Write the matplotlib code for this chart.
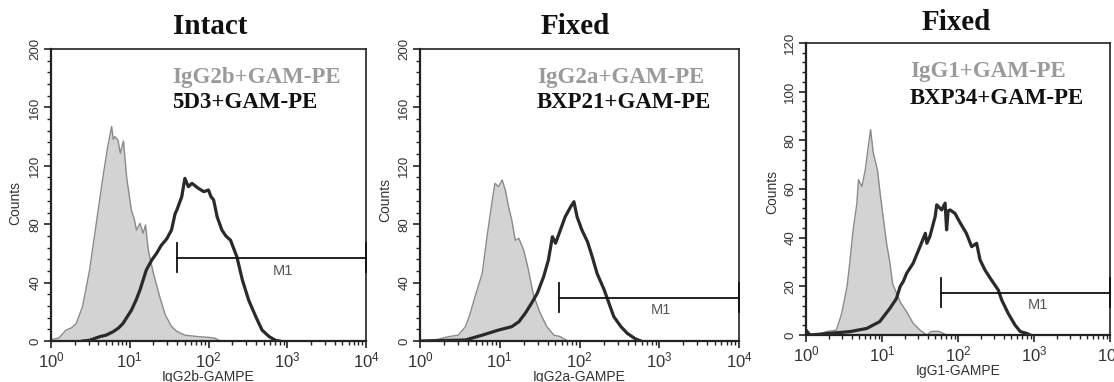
import numpy as np
import matplotlib
matplotlib.use("Agg")
import matplotlib.pyplot as plt
from matplotlib.ticker import LogLocator, LogFormatterMathtext, MultipleLocator, NullFormatter

plt.rcParams['mathtext.fontset'] = 'custom'
plt.rcParams['mathtext.rm'] = 'Liberation Sans'
plt.rcParams['mathtext.it'] = 'Liberation Sans'
plt.rcParams['font.family'] = ['Liberation Sans', 'DejaVu Sans']

# ---------------- data (log10 fluorescence, counts) ----------------
titles = ["Intact", "Fixed", "Fixed"]
iso_labels = ["IgG2b+GAM-PE", "IgG2a+GAM-PE", "IgG1+GAM-PE"]
ab_labels = ["5D3+GAM-PE", "BXP21+GAM-PE", "BXP34+GAM-PE"]
x_labels = ["IgG2b-GAMPE", "IgG2a-GAMPE", "IgG1-GAMPE"]
y_max = [200, 200, 120]

p1_iso_log = [0.0, 0.10, 0.19, 0.26, 0.32, 0.40, 0.49, 0.575, 0.66, 0.72, 0.77, 0.79, 0.81, 0.85, 0.88,
              0.92, 0.96, 1.02, 1.06, 1.085, 1.13, 1.17, 1.20, 1.235, 1.30, 1.38, 1.45, 1.53, 1.60, 1.70,
              1.87, 2.0, 2.08, 2.13, 2.2]
p1_iso_cnt = [1, 2, 7.5, 9, 12, 23.5, 48.6, 80.6, 112.5, 133, 147, 138, 140, 137.7, 128.6,
              137, 112.5, 89.7, 82.9, 76, 80.6, 73.8, 79.5, 62.3, 46.5, 30.4, 18, 10, 6.5, 4,
              3, 2.5, 2, 0.5, 0]
p1_ab_log = [0.40, 0.49, 0.62, 0.70, 0.79, 0.86, 0.915, 1.02, 1.08, 1.13, 1.21, 1.28, 1.34, 1.40, 1.47,
             1.53, 1.575, 1.60, 1.66, 1.70, 1.745, 1.79, 1.87, 1.94, 2.0, 2.03, 2.065, 2.11, 2.17, 2.22,
             2.28, 2.36, 2.43, 2.51, 2.60, 2.68, 2.77, 2.85, 2.9]
p1_ab_cnt = [0, 0.5, 3, 4, 6.4, 9, 12.1, 21, 28, 35, 48.6, 55.5, 60, 65.5, 70,
             76, 87, 90, 98.8, 111.4, 105.7, 108, 104.6, 102.3, 103.4, 99, 96.6, 85, 76, 72,
             69, 57.7, 41.8, 28, 16.7, 7.5, 3, 0.5, 0]

p2_iso_log = [0.0, 0.19, 0.36, 0.48, 0.57, 0.63, 0.69, 0.78, 0.84, 0.90, 0.94, 0.985, 1.03, 1.07, 1.11,
              1.15, 1.195, 1.24, 1.30, 1.36, 1.42, 1.50, 1.59, 1.68, 1.76, 1.82, 1.85]
p2_iso_cnt = [0, 0.7, 3, 4, 9.8, 19, 30.4, 46.3, 71.4, 94.3, 108, 105.7, 110.3, 103.4, 92,
              82.9, 69, 70.3, 62.3, 48.6, 32, 20, 9.8, 4, 3, 1, 0]
p2_ab_log = [0.0, 0.57, 0.78, 0.985, 1.15, 1.24, 1.32, 1.40, 1.47, 1.55, 1.61, 1.66, 1.70, 1.76, 1.82,
             1.89, 1.93, 1.97, 2.03, 2.10, 2.16, 2.22, 2.31, 2.37, 2.43, 2.52, 2.60, 2.70, 2.77]
p2_ab_cnt = [0, 0.7, 4, 7.5, 9.8, 13.2, 19, 26, 32.6, 44, 55.5, 71.4, 67, 76, 85,
             92, 95.4, 85, 76, 68, 57.7, 46.3, 35, 25.8, 16.7, 9.8, 5.2, 1.5, 0]

p3_iso_log = [0.0, 0.15, 0.27, 0.40, 0.47, 0.54, 0.58, 0.62, 0.67, 0.69, 0.735, 0.78, 0.82, 0.85, 0.885,
              0.94, 0.98, 1.02, 1.06, 1.105, 1.14, 1.24, 1.325, 1.41, 1.50, 1.59, 1.65, 1.75, 1.85]
p3_iso_cnt = [0.5, 0, 1.4, 2, 8.9, 19.9, 30.9, 43.2, 54.2, 63.8, 61, 67.9, 77.5, 84.4, 74.8,
              67.9, 57, 47.3, 37.7, 29.5, 21, 13.5, 9.5, 4.8, 2, 0, 1.5, 1.5, 0]
p3_ab_log = [0.0, 0.05, 0.58, 0.80, 0.97, 1.105, 1.19, 1.24, 1.28, 1.325, 1.41, 1.50, 1.57, 1.59, 1.63,
             1.70, 1.72, 1.785, 1.83, 1.85, 1.87, 1.895, 1.96, 2.03, 2.11, 2.18, 2.245, 2.29, 2.355, 2.44,
             2.53, 2.575, 2.66, 2.75, 2.82, 2.90, 2.95]
p3_ab_cnt = [2, 0, 1.4, 2.7, 5.5, 11, 15, 20, 22, 25.4, 29.5, 36.3, 41.8, 37.7, 40.5,
             48.7, 53.5, 51.4, 54.2, 43.2, 51, 51.4, 50, 46, 41.8, 36.3, 37.7, 30.9, 26.7, 22.6,
             18.5, 14.4, 8.9, 4.1, 1.4, 0.7, 0]

# M1 gate: start (log10), end (log10), level (counts), half tick height (counts)
m1_start = [1.60, 1.74, 1.78]
m1_end = [4.0, 4.0, 4.0]
m1_level = [57, 29.7, 17.4]
m1_half = [10, 10, 6]
m1_text_log = [2.94, 3.02, 3.05]
m1_text_cnt = [48, 21, 12.5]

iso_log = [p1_iso_log, p2_iso_log, p3_iso_log]
iso_cnt = [p1_iso_cnt, p2_iso_cnt, p3_iso_cnt]
ab_log = [p1_ab_log, p2_ab_log, p3_ab_log]
ab_cnt = [p1_ab_cnt, p2_ab_cnt, p3_ab_cnt]

# ---------------- layout (pixels) ----------------
W, H = 1114, 382
fig = plt.figure(figsize=(W / 100, H / 100), dpi=100)
boxes = [(51, 49, 366, 341), (420, 49, 739, 341), (806, 43, 1110, 335)]
title_pos = [(210, 27), (575, 27), (956, 23)]
legend_left = [172, 537, 910]
legend_y = [(77, 103), (78, 103), (72, 98)]
counts_pos = [(15, 203), (385, 200), (772, 192)]
xlabel_y = [377, 377, 371]

def fx(px):
    return px / W

def fy(py):
    return 1 - py / H

for i in range(3):
    l, t, r, b = boxes[i]
    ax = fig.add_axes([fx(l), fy(b), (r - l) / W, (b - t) / H])
    ax.set_xscale('log')
    ax.set_xlim(1, 1e4)
    ax.set_ylim(0, y_max[i])

    xi = 10 ** np.array(iso_log[i])
    yi = np.array(iso_cnt[i])
    ax.fill_between(xi, 0, yi, color='#d3d3d3', lw=0, zorder=1)
    ax.plot(xi, yi, color='#8a8a8a', lw=1.0, zorder=2)
    xa = 10 ** np.array(ab_log[i])
    ya = np.array(ab_cnt[i])
    ax.plot(xa, ya, color='#2a2a2a', lw=2.3, zorder=3)

    # M1 gate
    s, e, lv, hh = 10 ** m1_start[i], 10 ** m1_end[i], m1_level[i], m1_half[i]
    ax.plot([s, e], [lv, lv], color='#111111', lw=1.3, zorder=4, clip_on=False)
    ax.plot([s, s], [lv - hh, lv + hh], color='#111111', lw=1.3, zorder=4, clip_on=False)
    ax.plot([e, e], [lv - hh, lv + hh], color='#111111', lw=1.3, zorder=4, clip_on=False)
    ax.text(10 ** m1_text_log[i], m1_text_cnt[i], "M1", ha='center', va='center',
            fontsize=10.5, color='#555555')

    # ticks
    ax.xaxis.set_major_locator(LogLocator(base=10, numticks=10))
    ax.xaxis.set_minor_locator(LogLocator(base=10, subs=np.arange(2, 10), numticks=10))
    ax.xaxis.set_major_formatter(LogFormatterMathtext())
    ax.xaxis.set_minor_formatter(NullFormatter())
    if y_max[i] == 200:
        ax.yaxis.set_major_locator(MultipleLocator(40))
        ax.yaxis.set_minor_locator(MultipleLocator(8))
    else:
        ax.yaxis.set_major_locator(MultipleLocator(20))
        ax.yaxis.set_minor_locator(MultipleLocator(4))
    ax.tick_params(axis='both', which='major', direction='out', length=5, width=1.2,
                   color='#222222', top=False, right=False)
    ax.tick_params(axis='both', which='minor', direction='out', length=3, width=1.0,
                   color='#222222', top=False, right=False)
    ax.tick_params(axis='x', which='major', labelsize=12, pad=2, labelcolor='#333333')
    ax.tick_params(axis='y', which='major', labelsize=9.5, pad=2, labelcolor='#333333')
    for lab in ax.get_yticklabels():
        lab.set_rotation(90)
        lab.set_va('center')
    for sp in ax.spines.values():
        sp.set_color('#222222')
        sp.set_linewidth(1.2)
    ax.spines['left'].set_linewidth(1.6)
    ax.spines['bottom'].set_linewidth(1.6)

    # texts in figure pixel coordinates
    fig.text(fx(title_pos[i][0]), fy(title_pos[i][1]), titles[i], ha='center', va='center',
             fontsize=21, fontweight='bold', family='Liberation Serif', color='#111111')
    fig.text(fx(legend_left[i]), fy(legend_y[i][0]), iso_labels[i], ha='left', va='center',
             fontsize=16.5, fontweight='bold', family='Liberation Serif', color='#9a9a9a')
    fig.text(fx(legend_left[i]), fy(legend_y[i][1]), ab_labels[i], ha='left', va='center',
             fontsize=16.5, fontweight='bold', family='Liberation Serif', color='#111111')
    fig.text(fx(counts_pos[i][0]), fy(counts_pos[i][1]), "Counts", ha='center', va='center',
             rotation=90, fontsize=10, color='#333333')
    fig.text(fx((l + r) / 2), fy(xlabel_y[i]), x_labels[i], ha='center', va='center',
             fontsize=10, color='#333333')

fig.savefig("out.png", dpi=100)
